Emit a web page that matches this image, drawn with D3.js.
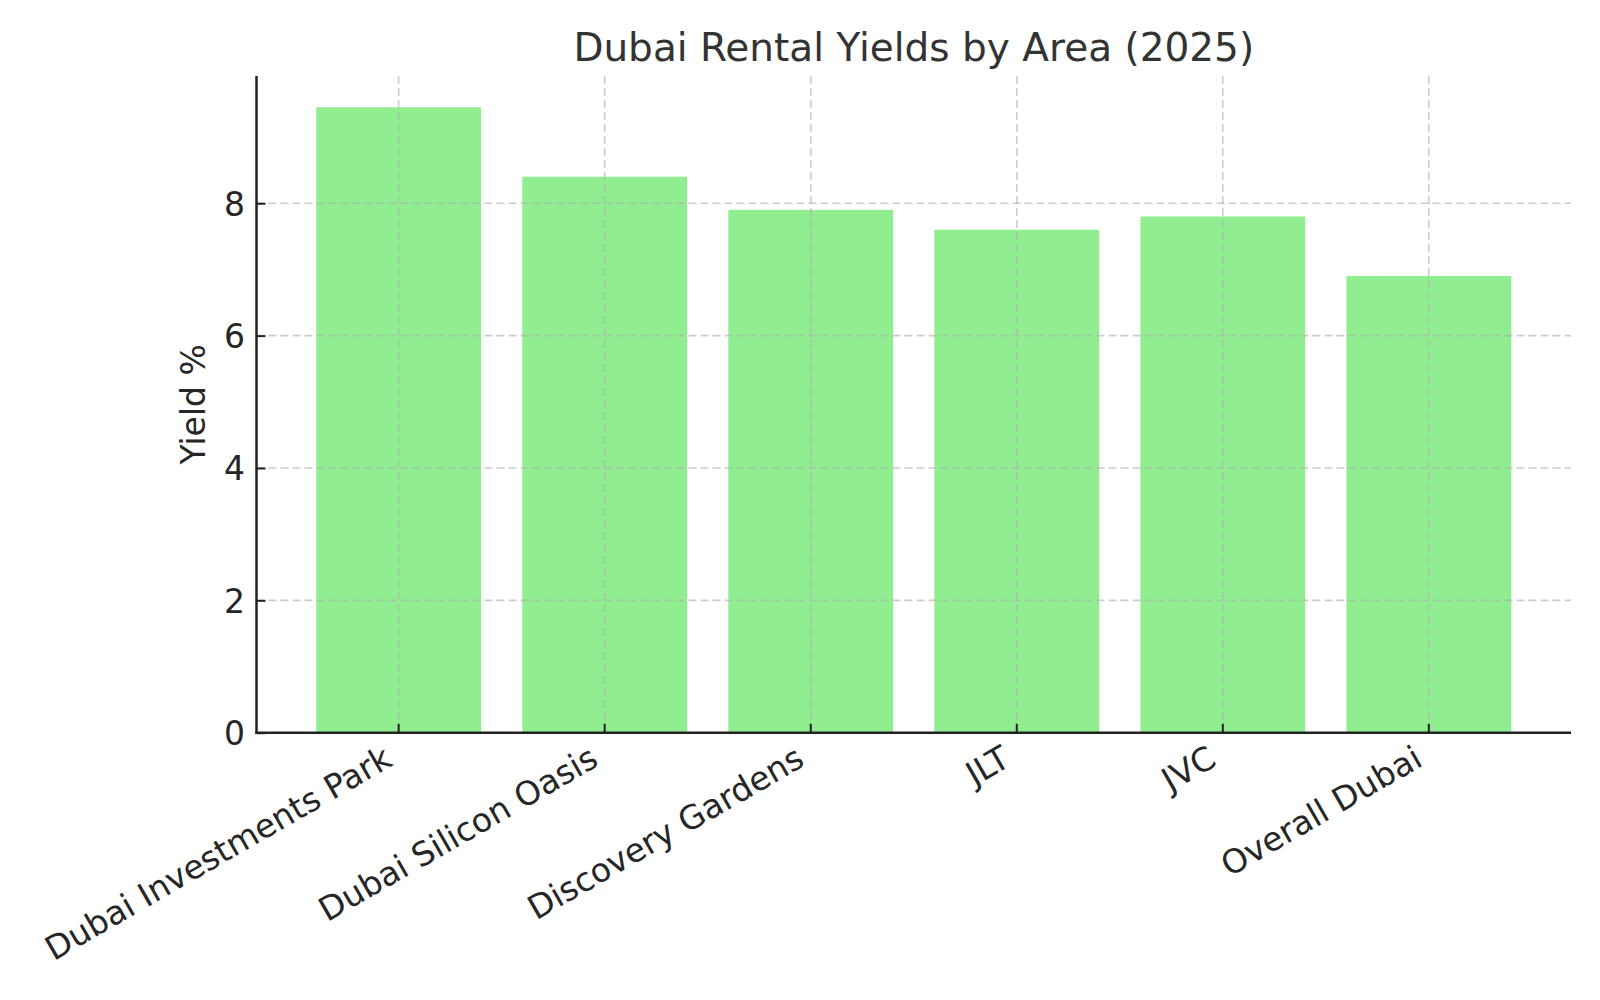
<!DOCTYPE html>
<html>
<head>
<meta charset="utf-8">
<script src="https://cdn.jsdelivr.net/npm/d3@7"></script>
<style>
  html, body { margin: 0; padding: 0; background: #fff; }
  svg { display: block; font-family: "DejaVu Sans", sans-serif; }
</style>
</head>
<body>
<svg id="chart" width="1600" height="1000"></svg>
<script>
const categories = ["Dubai Investments Park", "Dubai Silicon Oasis", "Discovery Gardens", "JLT", "JVC", "Overall Dubai"];
const yields = [9.45, 8.4, 7.9, 7.6, 7.8, 6.9];
const yTicks = [0, 2, 4, 6, 8];
const titleText = "Dubai Rental Yields by Area (2025)";
const yLabel = "Yield %";

const svg = d3.select("#chart");
const plot = { left: 256.5, right: 1571, top: 76, bottom: 732.7 };
const fs = 33;

const x = d3.scaleBand()
  .domain(categories)
  .range([plot.left, plot.right])
  .paddingInner(0.2)
  .paddingOuter(0.29);

const y = d3.scaleLinear()
  .domain([0, d3.max(yields) * 1.05])
  .range([plot.bottom, plot.top]);

const data = categories.map((c, i) => ({ c, v: yields[i] }));

// bars
svg.append("g").selectAll("rect")
  .data(data).join("rect")
  .attr("x", d => x(d.c))
  .attr("width", x.bandwidth())
  .attr("y", d => y(d.v))
  .attr("height", d => y(0) - y(d.v))
  .attr("fill", "#90EE90");

// grid
const grid = svg.append("g")
  .attr("stroke", "#b0b0b0")
  .attr("stroke-opacity", 0.65)
  .attr("stroke-width", 1.6)
  .attr("stroke-dasharray", "8,4");
grid.selectAll("line.h").data(yTicks.filter(t => t > 0)).join("line")
  .attr("class", "h")
  .attr("x1", plot.left).attr("x2", plot.right)
  .attr("y1", d => y(d)).attr("y2", d => y(d));
grid.selectAll("line.v").data(categories).join("line")
  .attr("class", "v")
  .attr("x1", d => x(d) + x.bandwidth() / 2).attr("x2", d => x(d) + x.bandwidth() / 2)
  .attr("y1", plot.top).attr("y2", plot.bottom);

// y axis
const yAxis = d3.axisLeft(y).tickValues(yTicks).tickFormat(d3.format("d"))
  .tickSizeInner(-9).tickSizeOuter(0).tickPadding(11.5);
const gy = svg.append("g").attr("transform", `translate(${plot.left},0)`).call(yAxis);
gy.select(".domain").remove();
gy.selectAll(".tick line").attr("stroke", "#222").attr("stroke-width", 2);
gy.selectAll(".tick text").attr("font-size", fs).attr("fill", "#262626")
  .attr("font-family", "DejaVu Sans").attr("dy", "0.36em");

// x axis
const xAxis = d3.axisBottom(x).tickSizeInner(-9).tickSizeOuter(0).tickFormat("");
const gx = svg.append("g").attr("transform", `translate(0,${plot.bottom})`).call(xAxis);
gx.select(".domain").remove();
gx.selectAll(".tick line").attr("stroke", "#222").attr("stroke-width", 2);

svg.append("g").selectAll("text")
  .data(categories).join("text")
  .attr("transform", d => `translate(${x(d) + x.bandwidth() / 2 - 4.5},${plot.bottom + 32}) rotate(-30)`)
  .attr("text-anchor", "end")
  .attr("font-size", fs)
  .attr("fill", "#262626")
  .text(d => d);

// spines
svg.append("line")
  .attr("x1", plot.left).attr("x2", plot.left)
  .attr("y1", plot.top).attr("y2", plot.bottom + 1.25)
  .attr("stroke", "#222").attr("stroke-width", 2.5);
svg.append("line")
  .attr("x1", plot.left - 1.25).attr("x2", plot.right)
  .attr("y1", plot.bottom).attr("y2", plot.bottom)
  .attr("stroke", "#222").attr("stroke-width", 2.5);

// title
svg.append("text")
  .attr("x", (plot.left + plot.right) / 2)
  .attr("y", 61)
  .attr("text-anchor", "middle")
  .attr("font-size", 39)
  .attr("fill", "#333")
  .text(titleText);

// y label
svg.append("text")
  .attr("transform", `translate(205,${(plot.top + plot.bottom) / 2}) rotate(-90)`)
  .attr("text-anchor", "middle")
  .attr("font-size", fs)
  .attr("fill", "#262626")
  .text(yLabel);
</script>
</body>
</html>
